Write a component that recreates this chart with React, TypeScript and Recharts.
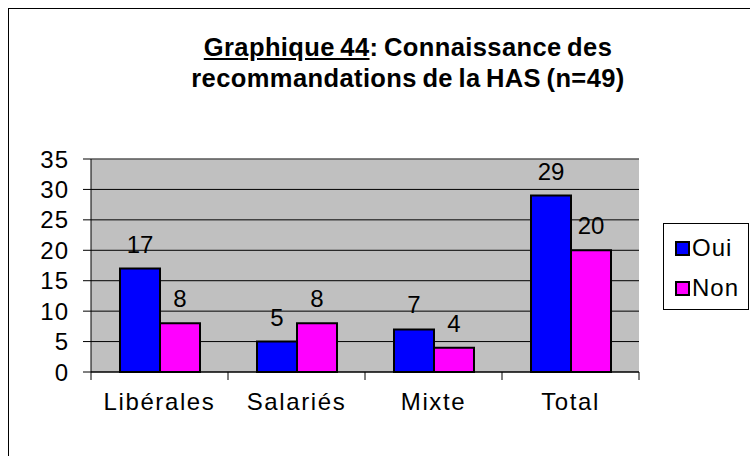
import { BarChart, Bar, XAxis, YAxis, CartesianGrid, LabelList, ReferenceLine } from 'recharts';

const categories = ['Libérales', 'Salariés', 'Mixte', 'Total'];
const oui = [17, 5, 7, 29];
const non = [8, 8, 4, 20];
const yTicks = [0, 5, 10, 15, 20, 25, 30, 35];

const data = categories.map((name, i) => ({ name, Oui: oui[i], Non: non[i] }));

const FONT = '"Liberation Sans", Arial, sans-serif';
const BAND = 137;

// Excel puts the x tick marks between categories, not under them
function CategoryTick(props: any) {
  const { x, y, payload, index } = props;
  const last = index === categories.length - 1;
  return (
    <g>
      <line x1={x - BAND / 2} y1={y - 8} x2={x - BAND / 2} y2={y} stroke="#000" />
      {last && <line x1={x + BAND / 2} y1={y - 8} x2={x + BAND / 2} y2={y} stroke="#000" />}
      <text x={x} y={y + 30} textAnchor="middle" fontSize={24} fontFamily={FONT} fill="#000" letterSpacing={1.6}>
        {payload.value}
      </text>
    </g>
  );
}

function LegendBox() {
  const items = [
    { label: 'Oui', color: '#0000FF' },
    { label: 'Non', color: '#FF00FF' },
  ];
  return (
    <div
      style={{
        position: 'absolute',
        left: 663,
        top: 223,
        border: '1px solid #000',
        background: '#fff',
        width: 86,
        height: 87,
        boxSizing: 'border-box',
        paddingTop: 4,
        fontFamily: FONT,
      }}
    >
      {items.map((it) => (
        <div key={it.label} style={{ display: 'flex', alignItems: 'center', height: 40, paddingLeft: 11 }}>
          <span
            style={{
              display: 'inline-block',
              width: 11,
              height: 11,
              background: it.color,
              border: '2px solid #000',
              marginRight: 2,
            }}
          />
          <span style={{ fontSize: 24, color: '#000', letterSpacing: 1 }}>{it.label}</span>
        </div>
      ))}
    </div>
  );
}

export default function App() {
  return (
    <div style={{ position: 'absolute', left: 0, top: 0, width: 750, height: 456, overflow: 'hidden', background: '#fff' }}>
      <div
        style={{
          position: 'absolute',
          left: 8,
          top: 8,
          width: 800,
          height: 500,
          border: '1px solid #000',
        }}
      />
      <div
        style={{
          position: 'absolute',
          left: 108,
          top: 32,
          width: 600,
          textAlign: 'center',
          fontFamily: FONT,
          fontWeight: 'bold',
          fontSize: 25.5,
          lineHeight: '31px',
          letterSpacing: 0.4,
          wordSpacing: -2,
          color: '#000',
          zIndex: 2,
        }}
      >
        <span style={{ textDecoration: 'underline' }}>Graphique 44</span>: Connaissance des
        <br />
        recommandations de la HAS (n=49)
      </div>
      <div style={{ position: 'absolute', left: 0, top: 0 }}>
        <BarChart
          width={750}
          height={456}
          data={data}
          margin={{ top: 159, right: 111, bottom: 0, left: 0 }}
          barGap={0}
          barCategoryGap={28}
        >
          <CartesianGrid vertical={false} stroke="#000" fill="#C0C0C0" />
          <XAxis
            dataKey="name"
            height={84}
            tickLine={false}
            axisLine={{ stroke: '#000' }}
            tick={<CategoryTick />}
            interval={0}
          />
          <YAxis
            width={91}
            domain={[0, 35]}
            ticks={yTicks}
            interval={0}
            tickSize={8}
            tickMargin={14}
            tickLine={{ stroke: '#000' }}
            axisLine={{ stroke: '#000' }}
            tick={{ fontSize: 24, fill: '#000', fontFamily: FONT, letterSpacing: 1 }}
          />
          <YAxis
            yAxisId="frame"
            orientation="right"
            width={0}
            tick={false}
            tickLine={false}
            axisLine={{ stroke: '#808080' }}
          />
          <ReferenceLine y={35} stroke="#808080" />
          <Bar dataKey="Oui" fill="#0000FF" stroke="#000" strokeWidth={2} barSize={40} isAnimationActive={false}>
            <LabelList dataKey="Oui" position="top" offset={16} fontSize={24} fill="#000" fontFamily={FONT} />
          </Bar>
          <Bar dataKey="Non" fill="#FF00FF" stroke="#000" strokeWidth={2} barSize={40} isAnimationActive={false}>
            <LabelList dataKey="Non" position="top" offset={16} fontSize={24} fill="#000" fontFamily={FONT} />
          </Bar>
        </BarChart>
      </div>
      <LegendBox />
    </div>
  );
}
